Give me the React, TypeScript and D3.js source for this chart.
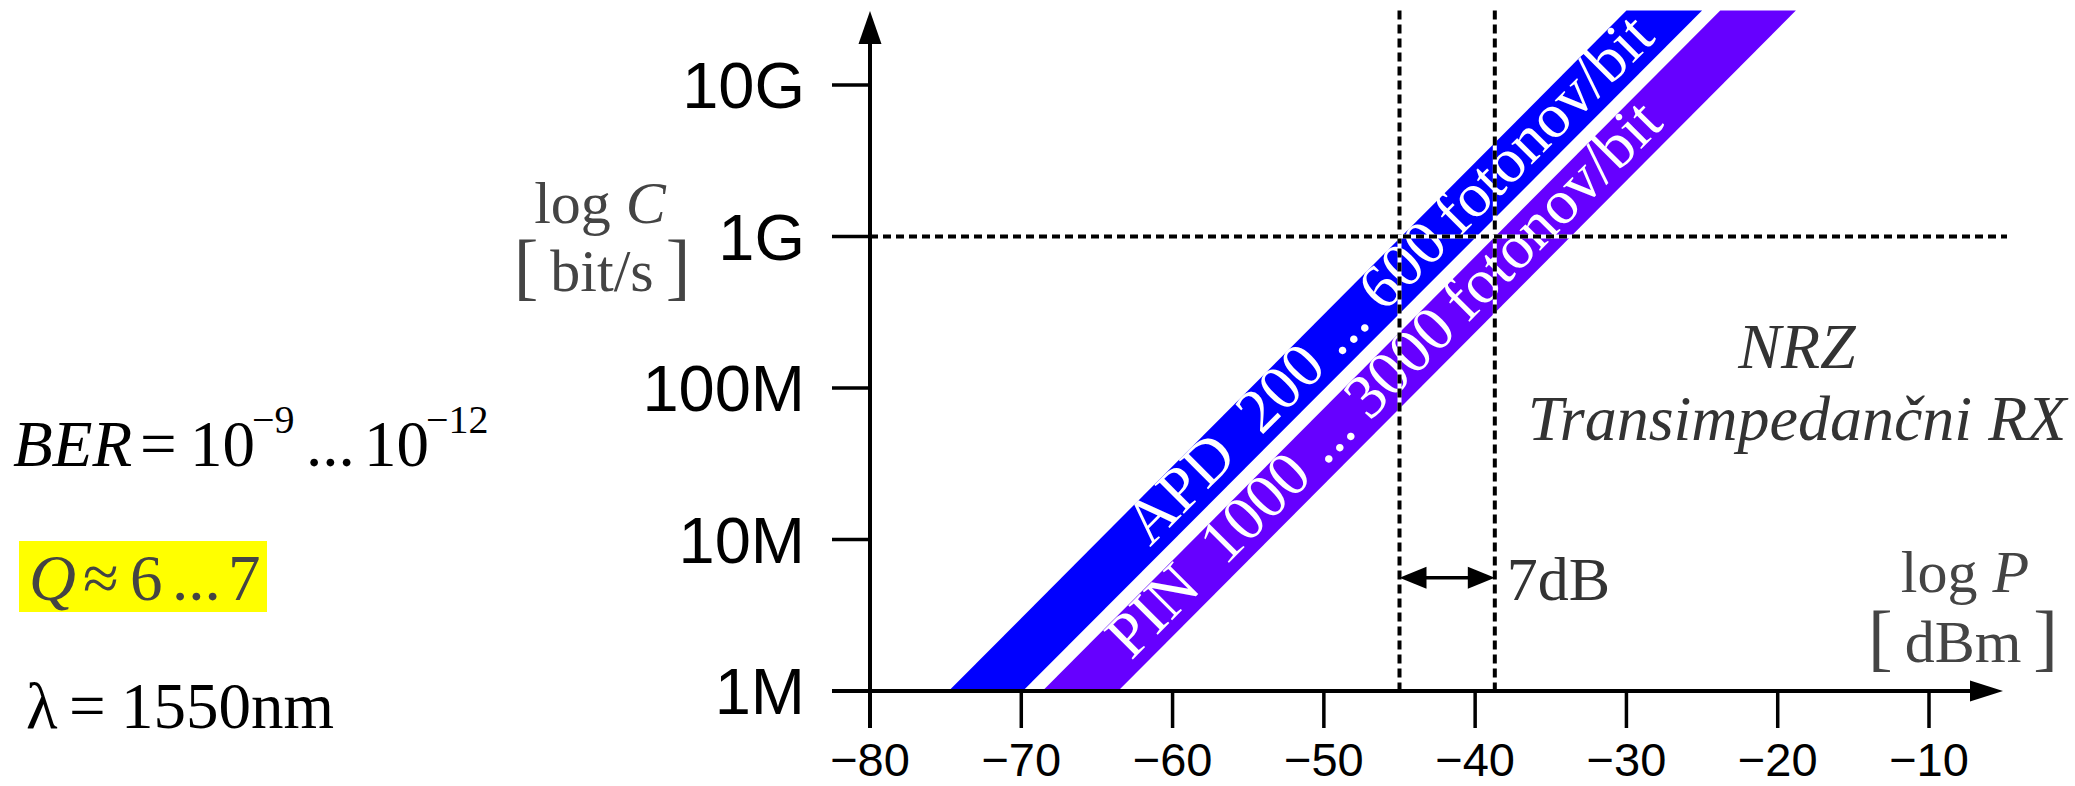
import React from 'react';
import * as d3 from 'd3';

const W = 2075;
const H = 786;

// axis ticks
const yTickValues = [1e6, 1e7, 1e8, 1e9, 1e10];
const yTickLabels = ['1M', '10M', '100M', '1G', '10G'];
const xTickValues = [-80, -70, -60, -50, -40, -30, -20, -10];

// bands: power [dBm] of left/right edge at the bottom and top rate of each band
const bandText = ['APD  200 ... 600\u2009fotonov/bit', 'PIN  1000 ... 3000\u2009fotonov/bit'];
const bandColors = ['#0000ff', '#6600ff'];
const bandRate = [1e6, 3.1e10];
const apdLeft = [-74.8, -30.0];
const apdRight = [-69.9, -25.0];
const pinLeft = [-68.6, -23.8];
const pinRight = [-63.6, -18.8];
const labelRate = [1.04e7, 1.85e6];

// reference lines
const refRate = 1e9;
const refPower = [-45, -38.7];
const arrowRate = 5.6e6;

const serif = '"Liberation Serif", "Times New Roman", serif';
const sans = '"Liberation Sans", Arial, sans-serif';

export default function App() {
  const x = d3.scaleLinear().domain([-80, -10]).range([870, 1929]);
  const y = d3.scaleLog().domain([1e6, 1e10]).range([691, 85]);
  const fmt = d3.format('d');

  const bands = [
    { left: apdLeft, right: apdRight },
    { left: pinLeft, right: pinRight },
  ];

  const line = d3.line();
  const x0 = x(-80);
  const yBase = y(1e6);
  const yTop = y(bandRate[1]);

  return (
    <svg width={W} height={H} style={{ position: 'absolute', left: 0, top: 0, background: '#fff' }}>
      {/* bands */}
      {bands.map((b, i) => {
        const pts: [number, number][] = [
          [x(b.left[0]), y(bandRate[0])],
          [x(b.right[0]), y(bandRate[0])],
          [x(b.right[1]), y(bandRate[1])],
          [x(b.left[1]), y(bandRate[1])],
        ];
        return <path key={i} d={line(pts) + 'Z'} fill={bandColors[i]} />;
      })}
      {bands.map((b, i) => {
        const l0 = Math.log10(bandRate[0]);
        const l1 = Math.log10(bandRate[1]);
        const c0 = (b.left[0] + b.right[0]) / 2;
        const c1 = (b.left[1] + b.right[1]) / 2;
        const t = (Math.log10(labelRate[i]) - l0) / (l1 - l0);
        const px = x(c0 + t * (c1 - c0));
        const py = y(labelRate[i]);
        const ang = (Math.atan2(y(bandRate[1]) - y(bandRate[0]), x(c1) - x(c0)) * 180) / Math.PI;
        return (
          <text
            key={'t' + i}
            transform={`translate(${px},${py}) rotate(${ang})`}
            x={0}
            y={15}
            fill="#fff"
            fontFamily={serif}
            fontSize={63}
            style={{ whiteSpace: 'pre' }}
          >
            {bandText[i]}
          </text>
        );
      })}

      {/* dashed reference lines */}
      <g>
        {refPower.map((p, i) => (
          <g key={'v' + i}>
            <line x1={x(p)} x2={x(p)} y1={yTop} y2={yBase} stroke="#fff" strokeWidth={4} />
            <line x1={x(p)} x2={x(p)} y1={yTop} y2={yBase} stroke="#000" strokeWidth={4} strokeDasharray="9,5" />
          </g>
        ))}
        <line x1={x0} x2={2007} y1={y(refRate)} y2={y(refRate)} stroke="#fff" strokeWidth={4} />
        <line x1={x0} x2={2007} y1={y(refRate)} y2={y(refRate)} stroke="#000" strokeWidth={4} strokeDasharray="8,5" />
      </g>

      {/* 7dB arrow */}
      <g>
        <line x1={x(refPower[0]) + 20} x2={x(refPower[1]) - 20} y1={y(arrowRate)} y2={y(arrowRate)} stroke="#000" strokeWidth={3.5} />
        <path
          d={`M${x(refPower[0])},${y(arrowRate)} L${x(refPower[0]) + 27},${y(arrowRate) - 11} L${x(refPower[0]) + 27},${y(arrowRate) + 11} Z`}
          fill="#000"
        />
        <path
          d={`M${x(refPower[1])},${y(arrowRate)} L${x(refPower[1]) - 27},${y(arrowRate) - 11} L${x(refPower[1]) - 27},${y(arrowRate) + 11} Z`}
          fill="#000"
        />
        <text x={x(refPower[1]) + 12} y={600} fontFamily={serif} fontSize={62} fill="#333">
          7dB
        </text>
      </g>

      {/* axes */}
      <g>
        <line x1={x0} x2={x0} y1={yBase + 37} y2={40} stroke="#000" strokeWidth={4} />
        <path d={`M${x0},11 L${x0 - 11.5},44 L${x0 + 11.5},44 Z`} fill="#000" />
        <line x1={832} x2={1975} y1={yBase} y2={yBase} stroke="#000" strokeWidth={4} />
        <path d={`M2003,${yBase} L1970,${yBase - 10.5} L1970,${yBase + 10.5} Z`} fill="#000" />
        {yTickValues.map((v, i) => (
          <g key={'yt' + i}>
            <line x1={832} x2={x0} y1={y(v)} y2={y(v)} stroke="#000" strokeWidth={3.5} />
            <text x={805} y={y(v)} dy="0.36em" textAnchor="end" fontFamily={sans} fontSize={65} fill="#000">
              {yTickLabels[i]}
            </text>
          </g>
        ))}
        {xTickValues.map((v, i) => (
          <g key={'xt' + i}>
            <line x1={x(v)} x2={x(v)} y1={yBase} y2={yBase + 37} stroke="#000" strokeWidth={3.5} />
            <text x={x(v)} y={776} textAnchor="middle" fontFamily={sans} fontSize={47} fill="#000">
              {fmt(v)}
            </text>
          </g>
        ))}
      </g>

      {/* axis titles */}
      <g fontFamily={serif} fill="#444" textAnchor="middle">
        <text x={600} y={223} fontSize={60}>
          log <tspan fontStyle="italic">C</tspan>
        </text>
        <text x={602} y={291} fontSize={60}>
          <tspan fontSize={74}>[</tspan>{'\u2009'}bit/s{'\u2009'}<tspan fontSize={74}>]</tspan>
        </text>
        <text x={1965} y={592} fontSize={60}>
          log <tspan fontStyle="italic">P</tspan>
        </text>
        <text x={1963} y={662} fontSize={60}>
          <tspan fontSize={74}>[</tspan>{'\u2009'}dBm{'\u2009'}<tspan fontSize={74}>]</tspan>
        </text>
      </g>

      {/* receiver annotation */}
      <g fontFamily={serif} fill="#333" fontStyle="italic" textAnchor="middle" fontSize={64}>
        <text x={1797} y={368}>NRZ</text>
        <text x={1797} y={440}>Transimpedančni RX</text>
      </g>

      {/* left conditions */}
      <g fontFamily={serif} fill="#000" fontSize={65}>
        <text x={13} y={466} fontStyle="italic">BER</text>
        <text x={140} y={466}>=</text>
        <text x={190} y={466}>10</text>
        <text x={252} y={433} fontSize={40}>−9</text>
        <text x={306} y={466}>...</text>
        <text x={364} y={466}>10</text>
        <text x={426} y={433} fontSize={40}>−12</text>
      </g>
      <rect x={19} y={541} width={248} height={71} fill="#ffff00" />
      <g fontFamily={serif} fill="#444" fontSize={65}>
        <text x={29} y={600} fontStyle="italic">Q</text>
        <text x={83} y={600}>≈</text>
        <text x={130} y={600}>6</text>
        <text x={172} y={600}>...</text>
        <text x={228} y={600}>7</text>
      </g>
      <g fontFamily={serif} fill="#000" fontSize={65}>
        <text x={26} y={728}>λ</text>
        <text x={69} y={728}>=</text>
        <text x={121} y={728}>1550nm</text>
      </g>
    </svg>
  );
}
